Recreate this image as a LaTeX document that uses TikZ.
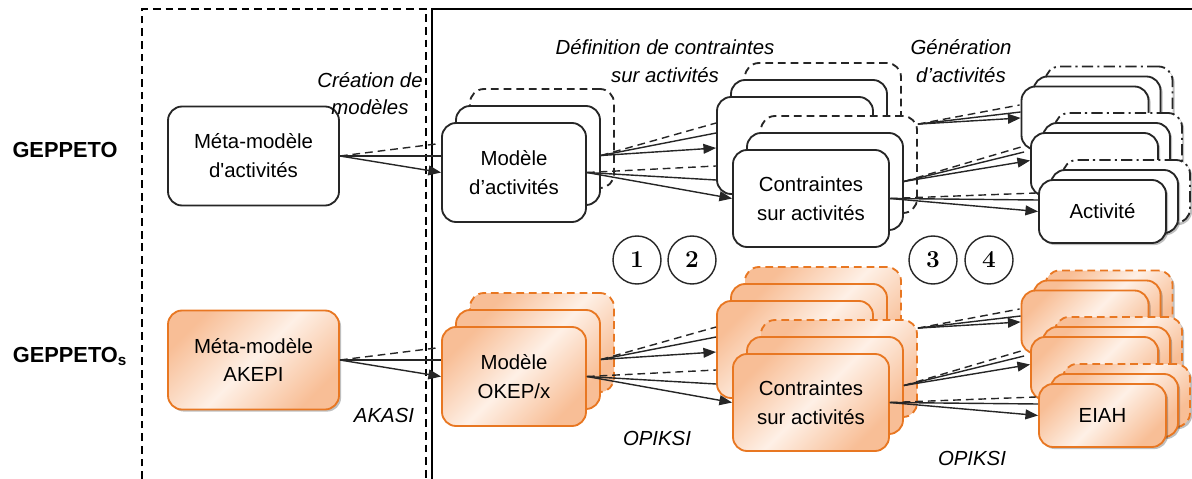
\documentclass[tikz,border=0pt]{standalone}
\usepackage[no-math]{fontspec}
\setmainfont{Liberation Sans}
\usetikzlibrary{arrows.meta,calc,shadows}

\definecolor{oBord}{HTML}{E87722}
\definecolor{oDark}{HTML}{F8BE96}
\definecolor{oLight}{HTML}{FEF0E6}

\newcommand\px{0.025cm}
% pile de trois cadres : #1 nom, #2 style, #3 style du fond, #4 x, #5 y, #6 largeur, #7 hauteur, #8 texte
\newcommand\pile[8]{%
  \node[#2,#3,minimum width=#6*\px,minimum height=#7*\px] (#1-2) at (#4+2*\dx,#5+2*\dy) {};
  \node[#2,minimum width=#6*\px,minimum height=#7*\px] (#1-1) at (#4+\dx,#5+\dy) {};
  \node[#2,minimum width=#6*\px,minimum height=#7*\px] (#1-0) at (#4,#5) {#8};
}
% faisceau : tirets, trait, fleche
\newcommand\fan[4]{%
  \draw[lien,tiret] (#1) -- (#2);
  \draw[lien] (#1) -- (#3);
  \draw[lien,fleche] (#1) -- (#4);
}

\begin{document}
\begin{tikzpicture}[x=0.025cm,y=-0.025cm,
    txt/.style={font=\fontsize{14.5}{20.5}\selectfont,align=center},
    lab/.style={font=\fontsize{14.5}{19.5}\itshape\selectfont,align=center},
    cadre/.style={txt,rounded corners=10pt,line width=1.3pt,inner sep=0pt},
    wbox/.style={cadre,draw=black!85,fill=white},
    obox/.style={cadre,draw=oBord,left color=oDark,right color=oDark,middle color=oLight,shading angle=45},
    tiret/.style={dash pattern=on 5.5pt off 3.5pt},
    ombre/.style={drop shadow={shadow xshift=1.5pt,shadow yshift=-1.5pt,opacity=0.25,fill=black}},
    wmeta/.style={wbox}, ometa/.style={obox,ombre},
    wact/.style={wbox,ombre}, oact/.style={obox,ombre},
    wactfond/.style={dash pattern=on 8pt off 3pt on 1.5pt off 3pt},
    oactfond/.style={tiret},
    lien/.style={line width=1pt,black!85},
    fleche/.style={-{Triangle[length=9pt,width=7pt]}},
    num/.style={circle,draw=black!85,line width=1pt,minimum size=48*\px,inner sep=0pt,
      font=\fontsize{16}{16}\selectfont}]
  \useasboundingbox (0,0) rectangle (1192,479);

  % cadres
  \draw[line width=1pt,tiret] (142,479) -- (142,9) -- (426,9) -- (426,479);
  \draw[line width=1.3pt] (432,479) -- (432,9) -- (1192,9);

  % noms des approches
  \node[font=\fontsize{15.5}{18}\selectfont\bfseries] (geppeto) at (65,150) {GEPPETO};
  \node[font=\fontsize{15.5}{18}\selectfont\bfseries] (geppetos) at (70,356) {GEPPETO\textsubscript{s}};

  % les deux lignes
  \foreach \r/\k/\ta/\tb/\tc in {0/w/{Méta-modèle\\d\textquotesingle activités}/{Modèle\\d’activités}/Activité,
                                  204/o/{Méta-modèle\\AKEPI}/{Modèle\\OKEP/x}/EIAH} {
    \node[\k meta,minimum width=171*\px,minimum height=99*\px] (\k meta) at (253.5,156+\r) {\ta};
    % modeles
    \def\dx{14}\def\dy{-17}
    \pile{\k mod}{\k box}{tiret}{514}{172.5+\r}{144}{99}{\tb}
    % contraintes
    \pile{\k cto}{\k box}{tiret}{795}{145.5+\r}{156}{97}{}
    \pile{\k cti}{\k box}{tiret}{811}{198.5+\r}{156}{97}{Contraintes\\sur activités}
    % activites
    \def\dx{12}\def\dy{-10}
    \pile{\k aa}{\k act}{\k actfond}{1085}{118+\r}{127}{63}{}
    \pile{\k ab}{\k act}{\k actfond}{1094.5}{164.5+\r}{127}{63}{}
    \pile{\k ac}{\k act}{\k actfond}{1102.5}{211.5+\r}{127}{63}{\tc}
    % liens
    \fan{\k meta.east}{$(\k mod-0.west)+(-5,-28.5)$}{$(\k mod-0.west)+(0,-16.5)$}{\k mod-0.west}
    \fan{\k mod-1.east}{$(\k cto-0.west)+(0,-22.5)$}{$(\k cto-0.west)+(0,-12.5)$}{$(\k cto-0.west)+(0,2.5)$}
    \fan{\k mod-0.east}{$(\k cto-0.west)+(0,20.5)$}{$(\k cto-0.west)+(0,34.5)$}{\k cti-0.west}
    \fan{$(\k cti-2.north east)+(0,9)$}{$(\k aa-0.west)+(-1,-13)$}{$(\k aa-0.west)+(0,-6)$}{\k aa-0.west}
    \fan{\k cti-1.east}{$(\k ab-0.west)+(-9,-17.5)$}{$(\k ab-0.west)+(-6,-12.5)$}{$(\k ab-0.west)+(0,-4)$}
    \fan{\k cti-0.east}{$(\k ac-0.west)+(-2,-18.5)$}{$(\k ac-0.west)+(0,-11.5)$}{\k ac-0.west}
  }

  % etiquettes
  \node[lab] (creation) at (370,93.5) {Création de\\modèles};
  \node[lab] (definition) at (665,61) {Définition de contraintes\\sur activités};
  \node[lab] (generation) at (961,61) {Génération\\d’activités};
  \node[lab] (akasi) at (384,415) {AKASI};
  \node[lab] (opiksia) at (657,438) {OPIKSI};
  \node[lab] (opiksib) at (972,458) {OPIKSI};

  % etapes
  \foreach \n/\x in {1/637,2/692,3/933,4/989}
    \node[num] (etape\n) at (\x,260) {$\mathbf{\n}$};
\end{tikzpicture}
\end{document}
